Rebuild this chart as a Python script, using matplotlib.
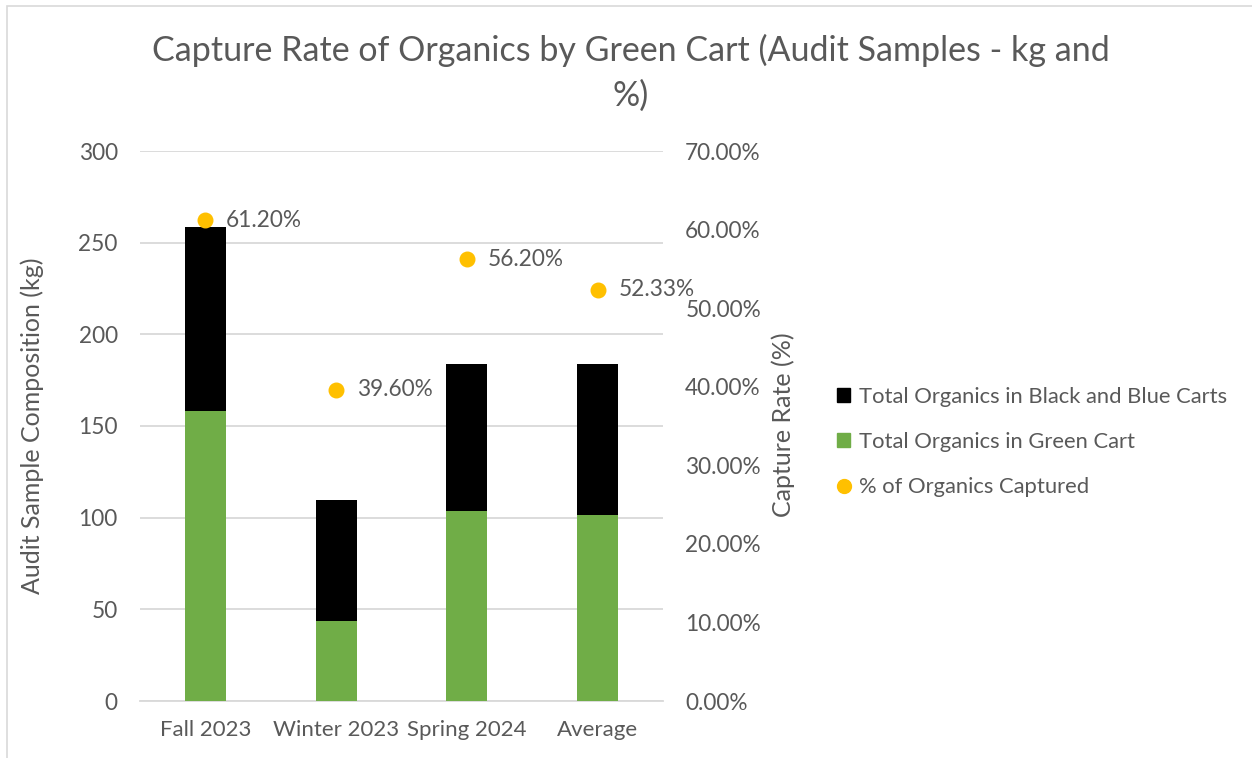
import matplotlib
matplotlib.use('Agg')
import matplotlib.pyplot as plt
from matplotlib.patches import Rectangle, Patch
from matplotlib.lines import Line2D
from matplotlib.ticker import FuncFormatter

# data
seasons = ['Fall 2023', 'Winter 2023', 'Spring 2024', 'Average']
green_cart_kg = [158.2, 43.4, 103.5, 101.7]
black_blue_kg = [100.3, 66.2, 80.5, 82.3]
capture_rate = [0.612, 0.396, 0.562, 0.5233]
rate_labels = ['61.20%', '39.60%', '56.20%', '52.33%']

TEXT = '#595959'
GRID = '#D9D9D9'
GREEN = '#70AD47'
BLACK = '#000000'
GOLD = '#FFC000'

plt.rcParams['font.family'] = ['Lato', 'DejaVu Sans']
W, H = 1252, 758
fig = plt.figure(figsize=(W / 100, H / 100), dpi=100)

ax = fig.add_axes([140 / W, 1 - 701 / H, 523 / W, 550 / H])
x = list(range(len(seasons)))
ax.bar(x, green_cart_kg, width=0.314, color=GREEN, zorder=3)
ax.bar(x, black_blue_kg, width=0.314, bottom=green_cart_kg, color=BLACK, zorder=3)
ax.set_xlim(-0.5, 3.5)
ax.set_ylim(0, 300)
ax.set_yticks(range(0, 301, 50))
ax.set_xticks(x)
ax.set_xticklabels(seasons)
ax.grid(axis='y', color=GRID, linewidth=1.3, zorder=0)
for s in ['left', 'right', 'top']:
    ax.spines[s].set_visible(False)
ax.spines['bottom'].set_color(GRID)
ax.spines['bottom'].set_linewidth(1.3)
ax.tick_params(axis='both', length=0, colors=TEXT, labelsize=16.3)
ax.tick_params(axis='y', pad=16)
ax.tick_params(axis='x', pad=14, labelsize=16)

ax2 = ax.twinx()
ax2.set_ylim(0, 0.7)
ax2.set_yticks([i / 10 for i in range(8)])
ax2.yaxis.set_major_formatter(FuncFormatter(lambda v, p: f'{v * 100:.2f}%'))
for s in ax2.spines.values():
    s.set_visible(False)
ax2.tick_params(axis='y', length=0, colors=TEXT, labelsize=16.3, pad=16)
ax2.scatter(x, capture_rate, s=110, color=GOLD, zorder=5, clip_on=False)
for xi, yi, lab in zip(x, capture_rate, rate_labels):
    ax2.annotate(lab, (xi, yi), xytext=(15, 0), textcoords='offset points',
                 va='center', ha='left', fontsize=16.3, color=TEXT)

fig.text(32 / W, 1 - 426 / H, 'Audit Sample Composition (kg)', rotation=90,
         ha='center', va='center', fontsize=18, color=TEXT)
fig.text(783 / W, 1 - 425 / H, 'Capture Rate (%)', rotation=90,
         ha='center', va='center', fontsize=18, color=TEXT)

fig.text(631 / W, 1 - 50 / H, 'Capture Rate of Organics by Green Cart (Audit Samples - kg and',
         ha='center', va='center', fontsize=24.5, color=TEXT)
fig.text(631 / W, 1 - 96 / H, '%)', ha='center', va='center', fontsize=24.5, color=TEXT)

handles = [Patch(facecolor=BLACK, edgecolor=BLACK),
           Patch(facecolor=GREEN, edgecolor=GREEN),
           Line2D([], [], marker='o', linestyle='none', markersize=10,
                  markerfacecolor=GOLD, markeredgecolor=GOLD)]
labels = ['Total Organics in Black and Blue Carts', 'Total Organics in Green Cart',
          '% of Organics Captured']
leg = fig.legend(handles, labels, loc='center left', bbox_to_anchor=(837 / W, 1 - 442 / H),
                 frameon=False, fontsize=15.8, handlelength=0.6, handleheight=0.6,
                 handletextpad=0.4, labelspacing=1.15, borderaxespad=0, borderpad=0)
for t in leg.get_texts():
    t.set_color(TEXT)

# light chart border like the source screenshot
fig.add_artist(Rectangle((7 / W, -0.1), 2, 1.1 - 6 / H, transform=fig.transFigure,
                         fill=False, edgecolor=GRID, linewidth=1.2))

fig.savefig('out.png', dpi=100, facecolor='white')
